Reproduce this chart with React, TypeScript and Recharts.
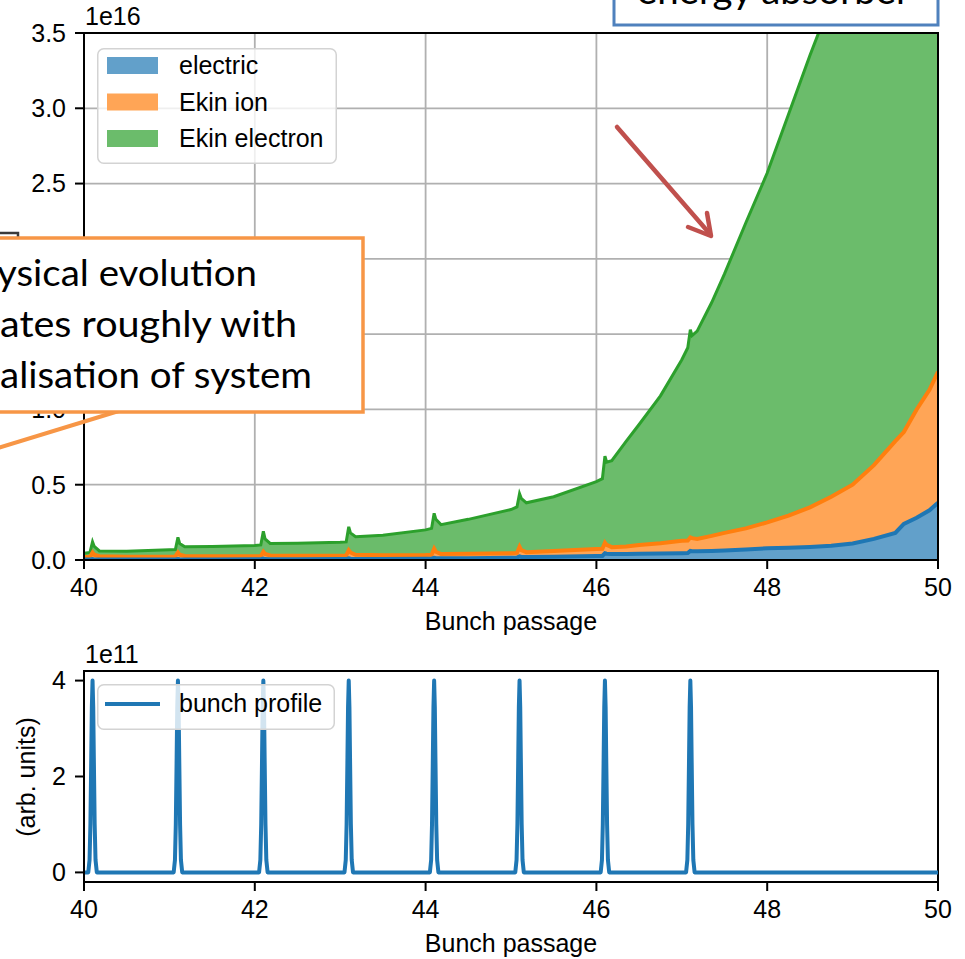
import React from 'react';
import { AreaChart, Area, LineChart, Line, XAxis, YAxis, CartesianGrid, Legend, ReferenceArea } from 'recharts';

// ---------- data ----------
const passage = [
  40, 40.07, 40.1, 40.12, 40.18, 40.5,
  41, 41.07, 41.1, 41.12, 41.18, 41.5,
  42, 42.07, 42.1, 42.12, 42.18, 42.5,
  43, 43.07, 43.1, 43.12, 43.18, 43.5,
  44, 44.07, 44.1, 44.12, 44.18, 44.5,
  45, 45.07, 45.1, 45.12, 45.18, 45.5,
  46, 46.07, 46.1, 46.12, 46.18, 46.35, 46.5, 46.75,
  47, 47.07, 47.1, 47.12, 47.18, 47.35, 47.5, 47.75,
  48, 48.25, 48.5, 48.75, 49, 49.25, 49.5, 49.6, 49.75, 49.9, 50,
];

// cumulative (stacked) tops, units of 1e16
const electronTop = [
  0.045, 0.05, 0.12, 0.09, 0.06, 0.058,
  0.068, 0.07, 0.15, 0.11, 0.088, 0.09,
  0.097, 0.1, 0.19, 0.14, 0.11, 0.112,
  0.118, 0.12, 0.22, 0.18, 0.155, 0.165,
  0.2, 0.21, 0.31, 0.27, 0.235, 0.27,
  0.335, 0.352, 0.44, 0.41, 0.38, 0.42,
  0.52, 0.54, 0.69, 0.65, 0.66, 0.79, 0.9, 1.09,
  1.33, 1.41, 1.53, 1.49, 1.52, 1.71, 1.9, 2.24,
  2.57, 2.96, 3.35, 3.72, 4.1, 4.5, 4.9, 5.05, 5.3, 5.55, 5.8,
];

const ionTop = [
  0.02, 0.022, 0.05, 0.035, 0.025, 0.022,
  0.022, 0.024, 0.05, 0.035, 0.027, 0.025,
  0.025, 0.027, 0.055, 0.04, 0.03, 0.028,
  0.028, 0.03, 0.065, 0.05, 0.035, 0.032,
  0.033, 0.035, 0.075, 0.055, 0.04, 0.042,
  0.045, 0.047, 0.088, 0.065, 0.052, 0.06,
  0.073, 0.075, 0.115, 0.1, 0.085, 0.09, 0.1, 0.112,
  0.128, 0.13, 0.15, 0.145, 0.14, 0.16, 0.18, 0.21,
  0.25, 0.295, 0.35, 0.42, 0.5, 0.63, 0.79, 0.85, 1.0, 1.13, 1.25,
];

const electricTop = [
  0.003, 0.003, 0.006, 0.004, 0.003, 0.003,
  0.004, 0.004, 0.007, 0.005, 0.004, 0.004,
  0.005, 0.005, 0.009, 0.006, 0.005, 0.005,
  0.006, 0.006, 0.011, 0.008, 0.007, 0.007,
  0.009, 0.009, 0.015, 0.012, 0.011, 0.012,
  0.015, 0.016, 0.024, 0.02, 0.02, 0.022,
  0.026, 0.027, 0.045, 0.042, 0.04, 0.04, 0.041, 0.043,
  0.045, 0.046, 0.06, 0.058, 0.058, 0.06, 0.063, 0.07,
  0.078, 0.082, 0.087, 0.095, 0.11, 0.14, 0.18, 0.24, 0.28, 0.33, 0.38,
];

const xTicks = [40, 42, 44, 46, 48, 50];
const energyTicks = [0, 0.5, 1, 1.5, 2, 2.5, 3, 3.5];

const bunchCenters = [40.1, 41.1, 42.1, 43.1, 44.1, 45.1, 46.1, 47.1];
const bunchOffsets = [-0.05, -0.035, -0.025, -0.015, -0.008, 0, 0.008, 0.015, 0.025, 0.035, 0.05];
const bunchShape = [0, 0.26, 1.0, 2.4, 3.45, 4, 3.45, 2.4, 1.0, 0.26, 0]; // units of 1e11
const profileTicks = [0, 2, 4];

// ---------- tables ----------
const energyData = passage.map((x, i) => ({
  x,
  electron: electronTop[i],
  ion: ionTop[i],
  electric: electricTop[i],
}));

const profileData: { x: number; p: number }[] = [{ x: 40, p: 0 }];
bunchCenters.forEach((c) => {
  bunchOffsets.forEach((o, j) => profileData.push({ x: +(c + o).toFixed(3), p: bunchShape[j] }));
});
profileData.push({ x: 50, p: 0 });

// ---------- styles ----------
const FONT = "'Liberation Sans', Arial, Helvetica, sans-serif";
const SLIDE_FONT = "Lato, 'Open Sans', sans-serif";
const tickStyle = { fill: '#000', fontSize: 25, fontFamily: FONT };
const axisLine = { stroke: '#000', strokeWidth: 2 };

const C_BLUE = '#1f77b4';
const C_ORANGE = '#ff7f0e';
const C_GREEN = '#2ca02c';
const F_BLUE = '#62a0ca';
const F_ORANGE = '#ffa556';
const F_GREEN = '#6bbc6b';

const legendItems = [
  { label: 'electric', fill: F_BLUE },
  { label: 'Ekin ion', fill: F_ORANGE },
  { label: 'Ekin electron', fill: F_GREEN },
];

const EnergyLegend = () => (
  <svg width={240} height={116} style={{ display: 'block' }}>
    <rect x={0.75} y={0.75} width={238.5} height={114.5} rx={6} fill="#fff" fillOpacity={0.8} stroke="#d3d3d3" strokeWidth={1.5} />
    {legendItems.map((it, i) => (
      <g key={it.label}>
        <rect x={10} y={9 + i * 36.5} width={51} height={17} fill={it.fill} />
        <text x={82} y={26 + i * 36.5} fontSize={25} fontFamily={FONT} fill="#000">{it.label}</text>
      </g>
    ))}
  </svg>
);

const ProfileLegend = () => (
  <svg width={238} height={46} style={{ display: 'block' }}>
    <rect x={0.75} y={0.75} width={236.5} height={44.5} rx={6} fill="#fff" fillOpacity={0.8} stroke="#d3d3d3" strokeWidth={1.5} />
    <line x1={8} x2={63} y1={20} y2={20} stroke={C_BLUE} strokeWidth={4} />
    <text x={82} y={28} fontSize={25} fontFamily={FONT} fill="#000">bunch profile</text>
  </svg>
);

export default function App() {
  return (
    <div style={{ position: 'absolute', left: 0, top: 0, width: 965, height: 959, background: '#fff', overflow: 'hidden' }}>
      {/* Top chart */}
      <div style={{ position: 'absolute', left: 0, top: 0 }}>
        <AreaChart width={965} height={640} data={energyData} margin={{ top: 33, right: 27, bottom: 5, left: 0 }}>
          <CartesianGrid stroke="#b0b0b0" strokeWidth={1.8} />
          <XAxis
            dataKey="x"
            type="number"
            domain={[40, 50]}
            ticks={xTicks}
            interval={0}
            allowDataOverflow
            tick={tickStyle}
            tickSize={9}
            tickMargin={9}
            height={75}
            axisLine={axisLine}
            tickLine={axisLine}
            label={{ value: 'Bunch passage', position: 'insideBottom', offset: 5, fill: '#000', fontSize: 25, fontFamily: FONT }}
          />
          <YAxis
            type="number"
            domain={[0, 3.5]}
            ticks={energyTicks}
            interval={0}
            allowDataOverflow
            width={84}
            tick={tickStyle}
            tickSize={9}
            tickMargin={9}
            axisLine={axisLine}
            tickLine={axisLine}
            tickFormatter={(v: number) => v.toFixed(1)}
          />
          <Area type="linear" dataKey="electron" name="Ekin electron" stroke={C_GREEN} strokeWidth={3} fill={F_GREEN} fillOpacity={1} dot={false} activeDot={false} isAnimationActive={false} />
          <Area type="linear" dataKey="ion" name="Ekin ion" stroke={C_ORANGE} strokeWidth={4} fill={F_ORANGE} fillOpacity={1} dot={false} activeDot={false} isAnimationActive={false} />
          <Area type="linear" dataKey="electric" name="electric" stroke={C_BLUE} strokeWidth={4} fill={F_BLUE} fillOpacity={1} dot={false} activeDot={false} isAnimationActive={false} />
          <ReferenceArea x1={40} x2={50} y1={0} y2={3.5} fill="none" fillOpacity={0} stroke="#000" strokeWidth={2} ifOverflow="visible" />
          <Legend
            layout="vertical"
            align="center"
            verticalAlign="middle"
            wrapperStyle={{ left: 97, top: 48, width: 240, height: 116 }}
            content={() => <EnergyLegend />}
          />
        </AreaChart>
      </div>

      {/* Bottom chart */}
      <div style={{ position: 'absolute', left: 0, top: 640 }}>
        <LineChart width={965} height={319} data={profileData} margin={{ top: 31, right: 27, bottom: 2, left: 0 }}>
          <XAxis
            dataKey="x"
            type="number"
            domain={[40, 50]}
            ticks={xTicks}
            interval={0}
            allowDataOverflow
            tick={tickStyle}
            tickSize={9}
            tickMargin={9}
            height={75}
            axisLine={axisLine}
            tickLine={axisLine}
            label={{ value: 'Bunch passage', position: 'insideBottom', offset: 5, fill: '#000', fontSize: 25, fontFamily: FONT }}
          />
          <YAxis
            type="number"
            domain={[-0.2, 4.2]}
            ticks={profileTicks}
            interval={0}
            allowDataOverflow
            width={84}
            tick={tickStyle}
            tickSize={9}
            tickMargin={9}
            axisLine={axisLine}
            tickLine={axisLine}
          />
          <Line type="linear" dataKey="p" name="bunch profile" stroke={C_BLUE} strokeWidth={4} strokeLinejoin="round" dot={false} activeDot={false} isAnimationActive={false} />
          <ReferenceArea x1={40} x2={50} y1={-0.2} y2={4.2} fill="none" fillOpacity={0} stroke="#000" strokeWidth={2} ifOverflow="visible" />
          <Legend
            layout="vertical"
            align="center"
            verticalAlign="middle"
            wrapperStyle={{ left: 97, top: 44, width: 238, height: 46 }}
            content={() => <ProfileLegend />}
          />
        </LineChart>
      </div>

      {/* Overlay annotations */}
      <svg width={965} height={959} style={{ position: 'absolute', left: 0, top: 0, pointerEvents: 'none' }}>
        <text x={85} y={25} fontSize={25} fontFamily={FONT} fill="#000">1e16</text>
        <text x={85} y={663} fontSize={25} fontFamily={FONT} fill="#000">1e11</text>
        <text x={35} y={777} fontSize={25} fontFamily={FONT} fill="#000" textAnchor="middle" transform="rotate(-90 35 777)">(arb. units)</text>

        {/* dark corner of hidden shape */}
        <path d="M0 233 L18 233 L18 240" fill="none" stroke="#3a3a3a" strokeWidth={2.5} />

        {/* orange callout */}
        <line x1={-2} y1={448} x2={122} y2={410} stroke="#f79646" strokeWidth={4} />
        <rect x={-20} y={238} width={383} height={174} fill="#fff" stroke="#f79646" strokeWidth={3.5} />
        <text x={-3} y={286} fontSize={36} fontFamily={SLIDE_FONT} fill="#000" textLength={260} lengthAdjust="spacingAndGlyphs">ysical evolution</text>
        <text x={0} y={337} fontSize={36} fontFamily={SLIDE_FONT} fill="#000" textLength={297} lengthAdjust="spacingAndGlyphs">ates roughly with</text>
        <text x={0} y={388} fontSize={36} fontFamily={SLIDE_FONT} fill="#000" textLength={312} lengthAdjust="spacingAndGlyphs">alisation of system</text>

        {/* blue box (top right) */}
        <rect x={614} y={-30} width={324} height={55} fill="#fff" stroke="#4f81bd" strokeWidth={3} />
        <text x={637} y={4} fontSize={36} fontFamily={SLIDE_FONT} fill="#000" textLength={273} lengthAdjust="spacingAndGlyphs">energy absorber</text>

        {/* red arrow */}
        <g stroke="#c0504d" strokeWidth={4.5} strokeLinecap="round" fill="none">
          <line x1={617} y1={127} x2={710} y2={234} />
          <polyline points="688,227 711,236 707,213" strokeLinejoin="round" />
        </g>
      </svg>
    </div>
  );
}
